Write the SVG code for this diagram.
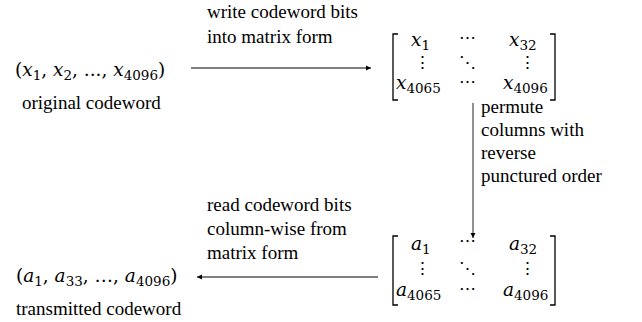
<svg xmlns="http://www.w3.org/2000/svg" width="642" height="322" viewBox="0 0 642 322">
<defs>
<marker id="ah" markerWidth="6" markerHeight="6" refX="5" refY="3" orient="auto" markerUnits="userSpaceOnUse">
<path d="M0,0.5 L5,3 L0,5.5 Z" fill="#000"/>
</marker>
<style>
text{font-family:"Liberation Serif","Times New Roman",serif;font-size:19px;fill:#000}
.mt{font-family:"DejaVu Serif",serif;font-size:18.5px}
.m{font-style:italic}
.s{font-size:13.5px;font-style:normal}
.d{font-family:"DejaVu Serif",serif;font-size:17px;text-anchor:middle}
.br{fill:none;stroke:#000;stroke-width:1.3}
.c{stroke:#555;stroke-width:1.3;fill:none}
</style>
</defs>
<g id="original">
<text class="mt" x="15" y="76">(<tspan class="m">x</tspan><tspan class="s" dy="4">1</tspan><tspan dy="-4">, </tspan><tspan class="m">x</tspan><tspan class="s" dy="4">2</tspan><tspan dy="-4">, ..., </tspan><tspan class="m">x</tspan><tspan class="s" dy="4">4096</tspan><tspan dy="-4">)</tspan></text>
<text x="22" y="109">original codeword</text>
</g>
<g id="matrix-x">
<path class="br" d="M398,34 H393 V100 H398 M550,34 H555 V100 H550"/>
<text class="mt" x="411" y="46"><tspan class="m">x</tspan><tspan class="s" dy="4">1</tspan></text>
<text class="d" x="467" y="43">⋯</text>
<text class="mt" x="509" y="46"><tspan class="m">x</tspan><tspan class="s" dy="4">32</tspan></text>
<text class="d" x="422" y="68">⋮</text>
<text class="d" x="467" y="68">⋱</text>
<text class="d" x="527" y="68">⋮</text>
<text class="mt" x="396" y="89"><tspan class="m">x</tspan><tspan class="s" dy="3.5">4065</tspan></text>
<text class="d" x="467" y="87">⋯</text>
<text class="mt" x="503" y="89"><tspan class="m">x</tspan><tspan class="s" dy="3.5">4096</tspan></text>
</g>
<g id="matrix-a">
<path class="br" d="M398,236 H393 V305 H398 M550,236 H555 V305 H550"/>
<text class="mt" x="411" y="250"><tspan class="m">a</tspan><tspan class="s" dy="4">1</tspan></text>
<text class="d" x="467" y="246">⋯</text>
<text class="mt" x="509" y="250"><tspan class="m">a</tspan><tspan class="s" dy="4">32</tspan></text>
<text class="d" x="422" y="274">⋮</text>
<text class="d" x="467" y="274">⋱</text>
<text class="d" x="527" y="274">⋮</text>
<text class="mt" x="396" y="296"><tspan class="m">a</tspan><tspan class="s" dy="4">4065</tspan></text>
<text class="d" x="467" y="294">⋯</text>
<text class="mt" x="503" y="296"><tspan class="m">a</tspan><tspan class="s" dy="4">4096</tspan></text>
</g>
<g id="transmitted">
<text class="mt" x="16" y="282">(<tspan class="m">a</tspan><tspan class="s" dy="4">1</tspan><tspan dy="-4">, </tspan><tspan class="m">a</tspan><tspan class="s" dy="4">33</tspan><tspan dy="-4">, …, </tspan><tspan class="m">a</tspan><tspan class="s" dy="4">4096</tspan><tspan dy="-4">)</tspan></text>
<text x="16" y="315">transmitted codeword</text>
</g>
<g id="connectors">
<line class="c" x1="191" y1="68" x2="371" y2="68" marker-end="url(#ah)"/>
<line class="c" x1="473" y1="103" x2="473" y2="238" marker-end="url(#ah)"/>
<line class="c" x1="378" y1="277" x2="197" y2="277" marker-end="url(#ah)"/>
</g>
<g id="labels">
<text x="481" y="113">permute</text>
<text x="481" y="136">columns with</text>
<text x="481" y="159">reverse</text>
<text x="481" y="182">punctured order</text>
<text x="207" y="18">write codeword bits</text>
<text x="207" y="43">into matrix form</text>
<text x="207" y="211">read codeword bits</text>
<text x="207" y="235">column-wise from</text>
<text x="207" y="259">matrix form</text>
</g>
</svg>
